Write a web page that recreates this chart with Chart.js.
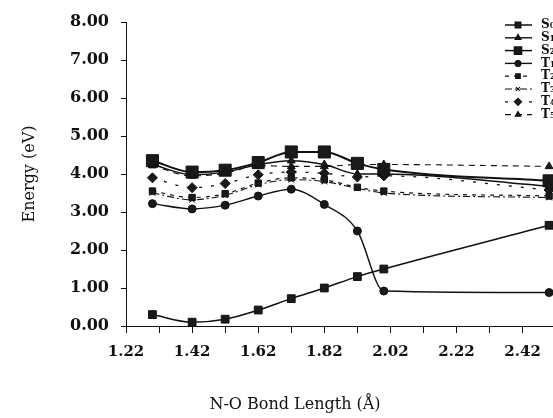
<!DOCTYPE html>
<html>
<head>
<meta charset="utf-8">
<script src="https://cdn.jsdelivr.net/npm/chart.js@4/dist/chart.umd.min.js"></script>
<style>
html, body { margin: 0; padding: 0; overflow: hidden; background: #fff; }
canvas { display: block; }
</style>
</head>
<body>
<canvas id="chart" width="600" height="418"></canvas>
<script>
// Dữ liệu
const bondLengths = [1.30, 1.42, 1.52, 1.62, 1.72, 1.82, 1.92, 2.00, 2.50];
const s0 = [0.30, 0.10, 0.18, 0.42, 0.72, 1.00, 1.30, 1.50, 2.65];
const s1 = [4.25, 3.98, 4.05, 4.25, 4.35, 4.25, 4.00, 4.00, 3.68];
const s2 = [4.35, 4.05, 4.10, 4.30, 4.58, 4.58, 4.28, 4.12, 3.82];
const t1 = [3.22, 3.08, 3.18, 3.42, 3.60, 3.20, 2.50, 0.92, 0.88];
const t2 = [3.55, 3.38, 3.48, 3.76, 3.90, 3.85, 3.65, 3.55, 3.42];
const t3 = [3.50, 3.32, 3.44, 3.72, 3.85, 3.80, 3.62, 3.50, 3.38];
const t4 = [3.90, 3.64, 3.75, 3.98, 4.05, 4.02, 3.92, 3.95, 3.58];
const t5 = [4.22, 3.95, 4.02, 4.22, 4.20, 4.20, 4.25, 4.25, 4.20];
const seriesNames = ['S₀', 'S₁', 'S₂', 'T₁', 'T₂', 'T₃', 'T₄', 'T₅'];
const xTicks = [1.22, 1.32, 1.42, 1.52, 1.62, 1.72, 1.82, 1.92, 2.02, 2.12, 2.22, 2.32, 2.42, 2.52];
const yTicks = [0, 0.5, 1, 1.5, 2, 2.5, 3, 3.5, 4, 4.5, 5, 5.5, 6, 6.5, 7, 7.5, 8];
const xTitle = 'N-O Bond Length (Å)';
const yTitle = 'Energy (eV)';

// Kiểu cho từng đường
const styles = [
    { pointStyle: 'rect', radius: 5.5, width: 1.5, dash: [] },
    { pointStyle: 'triangle', radius: 4.5, width: 1.4, dash: [] },
    { pointStyle: 'rect', radius: 8.5, width: 2, dash: [] },
    { pointStyle: 'circle', radius: 4, width: 1.4, dash: [] },
    { pointStyle: 'rect', radius: 4.5, width: 1.2, dash: [4, 5] },
    { pointStyle: 'crossRot', radius: 4, width: 1.1, dash: [7, 3, 2, 3] },
    { pointStyle: 'rectRot', radius: 5, width: 1.3, dash: [3, 9] },
    { pointStyle: 'triangle', radius: 4.5, width: 1.1, dash: [6, 5] }
];

const seriesValues = [s0, s1, s2, t1, t2, t3, t4, t5];
const serif = '"DejaVu Serif", "Liberation Serif", serif';

const datasets = seriesValues.map((vals, i) => {
    const st = styles[i];
    return {
        label: seriesNames[i],
        data: bondLengths.map((x, j) => ({ x: x, y: vals[j] })),
        borderColor: '#111',
        borderWidth: st.width,
        borderDash: st.dash,
        pointStyle: st.pointStyle,
        pointRadius: st.radius,
        pointBackgroundColor: '#1a1a1a',
        pointBorderColor: '#111',
        pointBorderWidth: 1,
        cubicInterpolationMode: 'monotone',
        fill: false
    };
});

/**
 * Vẽ chú thích trong vùng biểu đồ và tên trục x.
 */
const overlay = {
    id: 'overlay',
    afterDraw(chart) {
        const ctx = chart.ctx;
        ctx.save();
        ctx.fillStyle = '#111';
        ctx.font = '16px ' + serif;
        ctx.textAlign = 'center';
        ctx.textBaseline = 'middle';
        ctx.fillText(xTitle, 295, 405);

        chart.data.datasets.forEach((ds, i) => {
            const y = 25 + i * 12.8;
            ctx.strokeStyle = '#111';
            ctx.lineWidth = Math.min(ds.borderWidth, 1.5);
            ctx.setLineDash(ds.borderDash);
            ctx.beginPath();
            ctx.moveTo(505, y);
            ctx.lineTo(532, y);
            ctx.stroke();
            ctx.setLineDash([]);
            ctx.fillStyle = ds.pointBackgroundColor;
            Chart.helpers.drawPoint(ctx, {
                pointStyle: ds.pointStyle,
                radius: Math.min(ds.pointRadius * 0.7, 5),
                rotation: 0,
                borderWidth: 1
            }, 518, y);
            ctx.fillStyle = '#111';
            ctx.textAlign = 'left';
            ctx.font = 'bold 12px ' + serif;
            ctx.fillText(ds.label, 541, y);
        });
        ctx.restore();
    }
};

const config = {
    type: 'line',
    data: { datasets: datasets },
    options: {
        responsive: false,
        animation: false,
        layout: { padding: { top: 22, right: 41, left: 0, bottom: 0 } },
        plugins: {
            legend: { display: false },
            tooltip: { enabled: false }
        },
        scales: {
            x: {
                type: 'linear',
                min: 1.22,
                max: 2.53,
                afterBuildTicks: (scale) => { scale.ticks = xTicks.map(v => ({ value: v })); },
                afterFit: (scale) => { scale.height = 92; },
                ticks: {
                    autoSkip: false,
                    maxRotation: 0,
                    padding: 10,
                    color: '#111',
                    font: { family: serif, size: 15, weight: 'bold' },
                    callback: (v, i) => (i % 2 === 0 ? Number(v).toFixed(2) : '')
                },
                grid: { drawOnChartArea: false, tickLength: 7, color: '#111' },
                border: { display: true, color: '#111', width: 1 }
            },
            y: {
                min: 0,
                max: 8,
                afterBuildTicks: (scale) => { scale.ticks = yTicks.map(v => ({ value: v })); },
                afterFit: (scale) => { scale.width = 126; },
                ticks: {
                    padding: 12,
                    color: '#111',
                    font: { family: serif, size: 16, weight: 'bold' },
                    callback: (v) => (Number.isInteger(v) ? v.toFixed(2) : '')
                },
                grid: { drawOnChartArea: false, tickLength: 5, color: '#111' },
                border: { display: true, color: '#111', width: 1 },
                title: {
                    display: true,
                    text: yTitle,
                    color: '#111',
                    font: { family: serif, size: 16 },
                    padding: { top: 20, bottom: 0 }
                }
            }
        }
    },
    plugins: [overlay]
};

new Chart('chart', config);
</script>
</body>
</html>
